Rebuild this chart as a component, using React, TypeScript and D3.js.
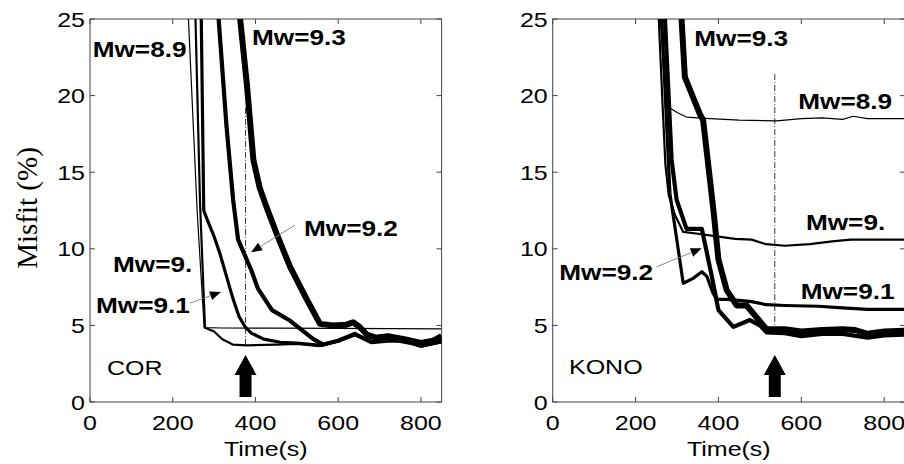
import React from "react";
import * as d3 from "d3";

type P = [number, number];

const xTicks = [0, 200, 400, 600, 800];
const yTicks = [0, 5, 10, 15, 20, 25];
const timeDomain: P = [0, 850];
const misfitDomain: P = [0, 25];

// COR station: misfit (%) vs time (s) for each trial magnitude
const cor89: P[] = [[238, 25], [259, 12.5], [276, 4.85], [320, 4.83], [450, 4.82], [600, 4.8], [850, 4.77]];
const cor90: P[] = [[255, 25], [266, 13], [278, 4.85], [300, 4.6], [320, 4.1], [345, 3.75], [380, 3.7], [450, 3.75], [500, 3.8], [556, 3.65], [600, 3.95], [640, 4.35], [680, 3.9], [720, 4.05], [760, 3.95], [800, 3.6], [850, 3.9]];
const cor91: P[] = [[269, 25], [275, 12.5], [282, 12.0], [300, 10.8], [314, 9.7], [330, 8.2], [345, 6.8], [360, 5.6], [375, 4.9], [390, 4.5], [420, 4.1], [460, 3.9], [500, 3.85], [540, 3.75], [560, 3.7], [600, 4.0], [640, 4.4], [680, 3.95], [720, 4.1], [760, 3.9], [800, 3.7], [850, 4.1]];
const cor92: P[] = [[311, 25], [330, 18], [346, 13.2], [358, 10.6], [390, 8.6], [406, 7.4], [440, 6.0], [484, 5.3], [540, 4.1], [564, 3.75], [600, 4.0], [640, 4.45], [680, 3.9], [720, 4.0], [760, 4.0], [800, 3.7], [850, 3.95]];
const cor93: P[] = [[363, 25], [379, 20.8], [395, 15.8], [410, 14.0], [427, 12.7], [451, 11.0], [484, 8.8], [524, 6.7], [556, 5.1], [588, 5.0], [620, 5.05], [636, 5.2], [652, 4.9], [669, 4.4], [690, 4.2], [720, 4.3], [760, 4.1], [800, 3.85], [830, 4.0], [850, 4.3]];

// KONO station
const kono89: P[] = [[260, 25], [268, 21.5], [277, 19.3], [300, 18.9], [323, 18.6], [380, 18.5], [450, 18.4], [540, 18.35], [600, 18.5], [650, 18.55], [700, 18.45], [725, 18.65], [760, 18.5], [850, 18.5]];
const kono90: P[] = [[256, 25], [265, 19.5], [272, 15.5], [280, 13.5], [295, 12.2], [315, 11.1], [360, 10.95], [400, 10.8], [440, 10.65], [480, 10.6], [515, 10.3], [560, 10.2], [620, 10.3], [680, 10.5], [720, 10.6], [850, 10.6]];
const kono91: P[] = [[263, 25], [279, 15.8], [283, 13.6], [300, 10.5], [315, 7.75], [339, 8.07], [360, 8.5], [372, 8.2], [387, 7.1], [396, 6.7], [420, 6.7], [444, 6.65], [480, 6.55], [516, 6.35], [560, 6.3], [640, 6.25], [700, 6.15], [760, 6.05], [850, 6.05]];
const kono92: P[] = [[271, 25], [287, 15.8], [299, 13.2], [323, 11.3], [360, 11.3], [384, 8.2], [400, 6.0], [436, 4.9], [476, 5.35], [500, 5.0], [516, 4.55], [560, 4.5], [600, 4.3], [650, 4.45], [700, 4.45], [760, 4.2], [800, 4.35], [850, 4.4]];
const kono93: P[] = [[311, 25], [319, 21.2], [355, 18.8], [363, 18.4], [388, 12.5], [400, 9.3], [420, 7.3], [444, 6.3], [468, 6.3], [516, 4.75], [560, 4.75], [600, 4.6], [650, 4.7], [700, 4.75], [730, 4.7], [760, 4.45], [800, 4.6], [850, 4.65]];

// Vertical dash-dot marker time and its extent (misfit)
const corMarker = { t: 376, from: 19.2, to: 3.6 };
const konoMarker = { t: 536, from: 21.4, to: 4.8 };

// Labels (time, misfit, text)
const corLabels: [number, number, string][] = [
  [6.5, 22.5, "Mw=8.9"], [391.7, 23.3, "Mw=9.3"], [517.4, 10.84, "Mw=9.2"],
  [55.6, 8.49, "Mw=9."], [14.5, 5.81, "Mw=9.1"],
];
const konoLabels: [number, number, string][] = [
  [341.7, 23.26, "Mw=9.3"], [592.7, 19.1, "Mw=8.9"], [611.2, 11.23, "Mw=9."],
  [598.5, 6.7, "Mw=9.1"], [15.9, 7.96, "Mw=9.2"],
];
const corName: [number, number, string] = [41.1, 1.76, "COR"];
const konoName: [number, number, string] = [39.3, 1.81, "KONO"];

// Leader arrows: [fromT, fromV, tipT, tipV]
const corPointers: [number, number, number, number][] = [
  [495.6, 11.55, 389.3, 9.77],
  [241.8, 6.46, 316.7, 7.18],
];
const konoPointers: [number, number, number, number][] = [
  [251, 8.83, 359.6, 10.03],
];

const widths = [1.2, 2.2, 3.2, 4.2, 6];
const SX = 1.19;
const SANS = "'Liberation Sans', Arial, Helvetica, sans-serif";

function Txt(props: { x: number; y: number; size: number; weight?: string; anchor?: string; children: React.ReactNode }) {
  const { x, y, size, weight = "normal", anchor = "start", children } = props;
  return (
    <text transform={`translate(${x},${y}) scale(${SX},1)`} fontSize={size} fontWeight={weight} textAnchor={anchor} fontFamily={SANS} fill="#000">
      {children}
    </text>
  );
}

function Panel(props: {
  id: string; x0: number; x1: number; series: P[][]; labels: [number, number, string][];
  name: [number, number, string]; pointers: [number, number, number, number][];
  marker: { t: number; from: number; to: number };
}) {
  const { id, x0, x1, series, labels, name, pointers, marker } = props;
  const y0 = 402, y1 = 19;
  const xs = d3.scaleLinear().domain(timeDomain).range([x0, x1]);
  const ys = d3.scaleLinear().domain(misfitDomain).range([y0, y1]);
  const line = d3.line<P>().x((d) => xs(d[0])).y((d) => ys(d[1]));
  const tick = 5;
  const mx = xs(marker.t);
  const ax = mx;
  return (
    <g>
      <defs>
        <clipPath id={id}>
          <rect x={x0} y={y1} width={x1 - x0} height={y0 - y1} />
        </clipPath>
      </defs>
      <rect x={x0} y={y1} width={x1 - x0} height={y0 - y1} fill="#fff" stroke="#444" strokeWidth={1} />
      {xTicks.map((t) => (
        <g key={"xt" + t}>
          <line x1={xs(t)} x2={xs(t)} y1={y0} y2={y0 - tick} stroke="#444" />
          <line x1={xs(t)} x2={xs(t)} y1={y1} y2={y1 + tick} stroke="#444" />
          <Txt x={xs(t)} y={430} size={21} anchor="middle">{t}</Txt>
        </g>
      ))}
      {yTicks.map((v) => (
        <g key={"yt" + v}>
          <line x1={x0} x2={x0 + tick} y1={ys(v)} y2={ys(v)} stroke="#444" />
          <line x1={x1} x2={x1 - tick} y1={ys(v)} y2={ys(v)} stroke="#444" />
          <Txt x={x0 - 5} y={ys(v) + 7.5} size={21} anchor="end">{v}</Txt>
        </g>
      ))}
      <Txt x={(x0 + x1) / 2} y={456} size={21} anchor="middle">Time(s)</Txt>
      <line x1={mx} x2={mx} y1={ys(marker.from)} y2={ys(marker.to)} stroke="#000" strokeWidth={0.8} strokeDasharray="6,2,1,2" />
      <g clipPath={`url(#${id})`}>
        {series.map((s, i) => (
          <path key={i} d={line(s) || ""} fill="none" stroke="#000" strokeWidth={widths[i]} strokeLinejoin="round" strokeLinecap="butt" />
        ))}
      </g>
      {pointers.map((p, i) => {
        const fx = xs(p[0]), fy = ys(p[1]), tx = xs(p[2]), ty = ys(p[3]);
        const ang = Math.atan2(ty - fy, tx - fx);
        const L = 11, Wd = 4.5;
        const bx = tx - L * Math.cos(ang), by = ty - L * Math.sin(ang);
        const px = -Math.sin(ang) * Wd, py = Math.cos(ang) * Wd;
        return (
          <g key={"p" + i}>
            <line x1={fx} y1={fy} x2={bx} y2={by} stroke="#777" strokeWidth={0.9} />
            <polygon points={`${tx},${ty} ${bx + px},${by + py} ${bx - px},${by - py}`} fill="#000" />
          </g>
        );
      })}
      <polygon
        points={`${ax},355 ${ax + 11},375 ${ax + 6},375 ${ax + 6},397 ${ax - 6},397 ${ax - 6},375 ${ax - 11},375`}
        fill="#000"
      />
      {labels.map((l, i) => (
        <Txt key={"l" + i} x={xs(l[0])} y={ys(l[1])} size={22} weight="bold">{l[2]}</Txt>
      ))}
      <Txt x={xs(name[0])} y={ys(name[1])} size={21}>{name[2]}</Txt>
    </g>
  );
}

export default function App() {
  return (
    <svg width={904} height={464} viewBox="0 0 904 464" style={{ position: "absolute", left: 0, top: 0, background: "#fff" }}>
      <rect x={0} y={0} width={904} height={464} fill="#fff" />
      <Panel id="clipCor" x0={90} x1={441.6} series={[cor89, cor90, cor91, cor92, cor93]} labels={corLabels} name={corName} pointers={corPointers} marker={corMarker} />
      <Panel id="clipKono" x0={552.7} x1={904.9} series={[kono89, kono90, kono91, kono92, kono93]} labels={konoLabels} name={konoName} pointers={konoPointers} marker={konoMarker} />
      <text transform="translate(37,208) rotate(-90)" fontSize={29} fontFamily="'Liberation Serif', 'Times New Roman', serif" textAnchor="middle" fill="#000">
        Misfit (%)
      </text>
    </svg>
  );
}
